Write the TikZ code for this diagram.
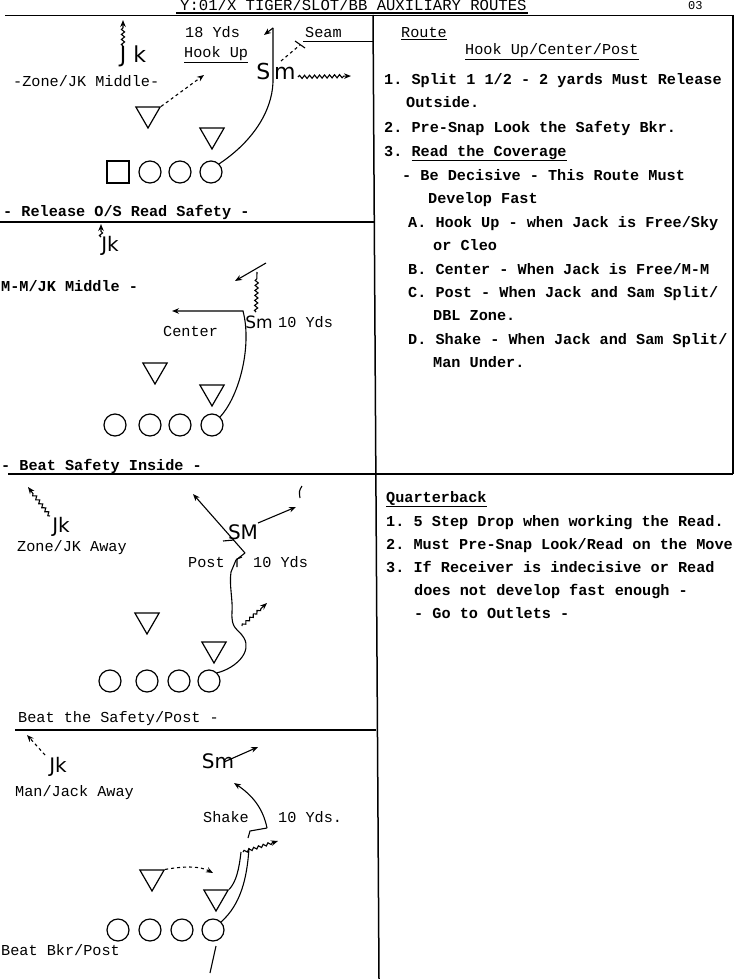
\documentclass[tikz,border=0pt]{standalone}
\usepackage{fontspec}
\setmonofont{Liberation Mono}
\newfontfamily\handfont{DejaVu Sans}
\usetikzlibrary{arrows.meta,decorations.pathmorphing,shapes.geometric}
\tikzset{
  tw/.style={font=\ttfamily\fontsize{15.2}{18}\selectfont, anchor=base west, inner sep=0pt},
  twb/.style={font=\ttfamily\bfseries\fontsize{15.2}{18}\selectfont, anchor=base west, inner sep=0pt},
  rulel/.style={line width=1.5pt},
  player/.style={circle, draw, line width=1.2pt, minimum size=22pt, inner sep=0pt},
  sqplayer/.style={rectangle, draw, line width=1.2pt, minimum size=22pt, inner sep=0pt},
  defn/.style={regular polygon, regular polygon sides=3, shape border rotate=180, draw, line width=1.2pt, minimum size=28pt, inner sep=0pt},
  route/.style={line width=1.1pt},
  arr/.style={-{Stealth[length=7pt,width=5.5pt]}},
  wavy/.style={decorate, decoration={snake, amplitude=1.6pt, segment length=5pt, post length=6pt}},
  hw/.style={font=\handfont\fontsize{20}{20}\selectfont, inner sep=0pt},
}
\begin{document}
\begin{tikzpicture}[x=1pt,y=-1pt]
\useasboundingbox (0,0) rectangle (737,979);

% ---------- header and frame ----------
\node[tw, font=\ttfamily\fontsize{15.6}{18}\selectfont] (hdr) at (180,11) {Y:01/X TIGER/SLOT/BB AUXILIARY ROUTES};
\node[tw, font=\ttfamily\fontsize{12}{14}\selectfont] (pg) at (688,10) {03};
\draw[line width=1.1pt] (176,13) -- (528,13);
\draw[rulel] (5,15.5) -- (733,15.5);
\draw[rulel] (373,15) -- (379,979);
\draw[rulel] (733,15) -- (733,474);
\draw[rulel] (0,222) -- (374,222);
\draw[rulel] (8,474) -- (733,474);
\draw[rulel] (15,730) -- (376,730);

% ---------- right column ----------
\node[tw] (route) at (401,38) {\underline{Route}};
\node[tw] (rtitle) at (465,55) {\underline{Hook Up/Center/Post}};
\node[twb] (r1) at (384,85) {1. Split 1 1/2 - 2 yards Must Release};
\node[twb] (r1b) at (406,108) {Outside.};
\node[twb] (r2) at (384,132) {2. Pre-Snap Look the Safety Bkr.};
\node[twb] (r3) at (384,156) {3. \underline{Read the Coverage}};
\node[twb] (r3a) at (402,180) {- Be Decisive - This Route Must};
\node[twb] (r3b) at (428,203) {Develop Fast};
\node[twb] (ra) at (408,227) {A. Hook Up - when Jack is Free/Sky};
\node[twb] (rab) at (433,250) {or Cleo};
\node[twb] (rb) at (408,274) {B. Center - When Jack is Free/M-M};
\node[twb] (rc) at (408,297) {C. Post - When Jack and Sam Split/};
\node[twb] (rcb) at (433,320) {DBL Zone.};
\node[twb] (rd) at (408,344) {D. Shake - When Jack and Sam Split/};
\node[twb] (rdb) at (433,367) {Man Under.};

\node[twb] (qb) at (386,502) {\underline{Quarterback}};
\node[twb] (q1) at (386,526) {1. 5 Step Drop when working the Read.};
\node[twb] (q2) at (386,549) {2. Must Pre-Snap Look/Read on the Move};
\node[twb] (q3) at (386,572) {3. If Receiver is indecisive or Read};
\node[twb] (q3b) at (414,595) {does not develop fast enough -};
\node[twb] (q3c) at (414,618) {- Go to Outlets -};

% ---------- panel 1 : Hook Up ----------
\node[hw, font=\handfont\fontsize{22}{22}\selectfont] (jk1) at (133,56) {J k};
\draw[route,arr,wavy] (123,46) -- (123,20);
\node[tw] (yd1) at (185,38) {18 Yds};
\node[tw] (hk1) at (184,58) {\underline{Hook Up}};
\node[tw] (seam) at (305,38) {Seam};
\draw[line width=0.9pt] (303,41) -- (374,41);
\node[tw] (zm1) at (13,87) {-Zone/JK Middle-};
\node[defn] (t1a) at (148,114) {};
\node[defn] (t1b) at (212,135) {};
\node[sqplayer] (q1p) at (118,172) {};
\node[player] (p1b) at (150,172) {};
\node[player] (p1c) at (180,172) {};
\node[player] (p1d) at (211,172) {};
\coordinate (h1top) at (273,28);
\draw[route] (p1d.north east) .. controls (252,142) and (272,112) .. (273,82) -- (h1top);
\draw[route,arr] (h1top) -- (264,35);
\draw[route,arr,dashed] (t1a.corner 2) -- (204,75);
\node[hw, font=\handfont\fontsize{22}{22}\selectfont] (sm1) at (276,71) {S\,m};
\draw[route,arr,wavy] (298,77) -- (351,76);
\draw[route,dashed] (281,61) -- (300,45);
\draw[route] (295,41) -- (305,48);
\node[twb] (rel) at (3,216) {- Release O/S Read Safety -};

% ---------- panel 2 : Center ----------
\node[hw] (jk2) at (110,246) {Jk};
\draw[route,arr,wavy] (101,237) -- (101,224);
\node[twb] (mm2) at (1,291) {M-M/JK Middle -};
\node[defn] (t2a) at (155,370) {};
\node[defn] (t2b) at (212,392) {};
\node[player] (p2a) at (115,425) {};
\node[player] (p2b) at (150,425) {};
\node[player] (p2c) at (180,425) {};
\node[player] (p2d) at (212,425) {};
\coordinate (c2) at (243,311);
\draw[route,arr] (p2d.north east) .. controls (240,395) and (252,345) .. (c2) -- (172,311);
\node[hw, font=\handfont\fontsize{17}{17}\selectfont] (sm2) at (259,322) {Sm};
\draw[route,wavy,decoration={snake,amplitude=1.6pt,segment length=5pt}] (256,312) -- (257,272);
\draw[route,arr] (266,263) -- (235,281);
\node[tw] (yd2) at (278,327) {10 Yds};
\node[tw] (cen) at (163,336) {Center};
\node[twb] (bsi) at (1,470) {- Beat Safety Inside -};

% ---------- panel 3 : Post ----------
\node[hw] (jk3) at (61,527) {Jk};
\draw[route,arr,wavy] (50,516) -- (28,487);
\node[tw] (dz3) at (17,551) {Zone/JK Away};
\node[defn] (t3a) at (147,620) {};
\node[defn] (t3b) at (214,649) {};
\node[player] (p3a) at (110,681) {};
\node[player] (p3b) at (147,681) {};
\node[player] (p3c) at (179,681) {};
\node[player] (p3d) at (209,681) {};
\coordinate (b3) at (245,553);
\draw[route] (p3d.north east) .. controls (236,668) and (252,652) .. (244,638)
   .. controls (238,628) and (231,630) .. (232,612)
   .. controls (233,600) and (229,585) .. (231,572) -- (236,560) -- (b3);
\draw[route,arr] (b3) -- (193,494);
\node[hw] (sm3) at (243,532) {SM};
\draw[route] (223,541) -- (234,540);
\draw[route,arr] (258,523) -- (296,507);
\draw[route] (302,486) .. controls (299,491) .. (300,498);
\node[tw] (post3) at (188,567) {Post};
\draw[route] (237,567) -- (237,559) -- (242,557);
\node[tw] (yd3) at (253,567) {10 Yds};
\draw[route,arr,wavy,decoration={snake,amplitude=1.3pt,segment length=5pt,post length=6pt}] (242,626) -- (267,603);
\node[tw] (bsp) at (18,722) {Beat the Safety/Post -};

% ---------- panel 4 : Shake ----------
\node[hw] (jk4) at (58,767) {Jk};
\draw[route,arr,dashed] (45,755) -- (27,735);
\node[tw] (mj4) at (15,796) {Man/Jack Away};
\node[defn] (t4a) at (152,877) {};
\node[defn] (t4b) at (216,897) {};
\node[player] (p4a) at (118,930) {};
\node[player] (p4b) at (150,930) {};
\node[player] (p4c) at (182,930) {};
\node[player] (p4d) at (213,930) {};
\node[hw] (sm4) at (218,761) {Sm};
\draw[route,arr] (224,762) -- (258,747);
\draw[route] (p4d.north east) .. controls (240,905) and (247,880) .. (249,848);
\draw[route] (t4b.corner 2) .. controls (236,882) and (239,870) .. (241,852);
\draw[route] (216,946) -- (210,973);
\draw[route] (248,838) -- (250,831) -- (267,828);
\draw[route,arr] (267,828) .. controls (263,808) and (252,795) .. (234,783);
\draw[route,arr,wavy,decoration={snake,amplitude=1.3pt,segment length=5pt,post length=6pt}] (243,852) -- (278,841);
\draw[route,arr,dashed] (t4a.corner 2) .. controls (185,866) and (200,866) .. (213,873);
\node[tw] (shk) at (203,822) {Shake};
\node[tw] (yd4) at (278,822) {10 Yds.};
\node[tw] (bbp) at (1,955) {Beat Bkr/Post};
\end{tikzpicture}
\end{document}
